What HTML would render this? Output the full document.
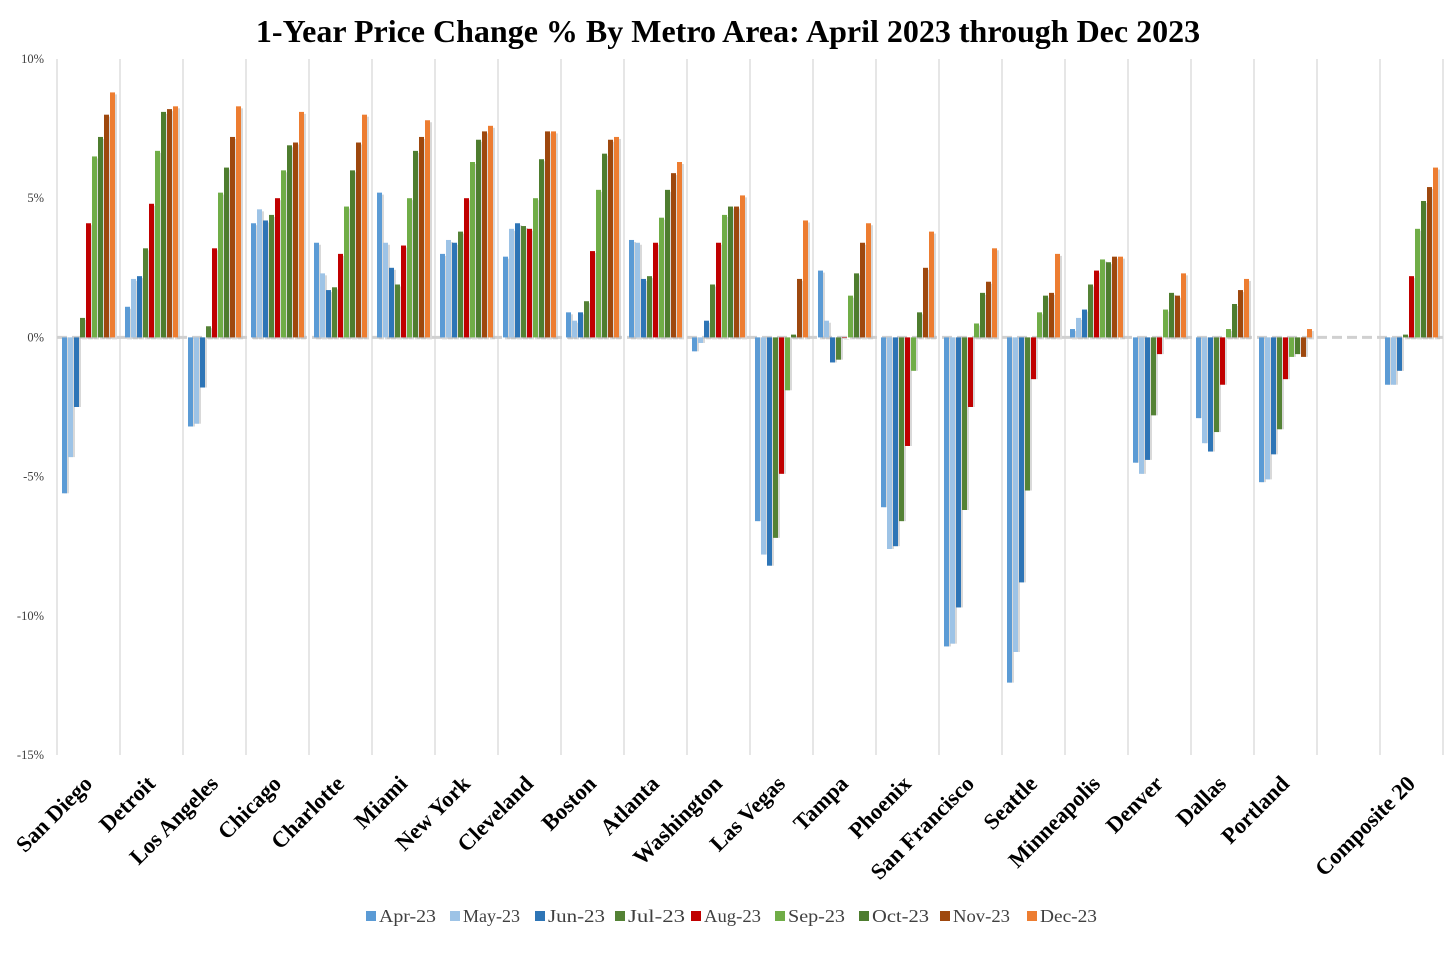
<!DOCTYPE html>
<html><head><meta charset="utf-8"><style>
body{margin:0;background:#fff;}
svg{display:block;font-family:"Liberation Serif",serif;}
</style></head><body>
<svg id="c" width="1456" height="974">
<text x="728" y="42" text-anchor="middle" font-size="32" font-weight="bold" fill="#000">1-Year Price Change % By Metro Area: April 2023 through Dec 2023</text>
<g id="grid"></g><g id="bars"></g><g id="labels"></g><g id="legend"></g>
</svg>
<script>
const categories=["San Diego","Detroit","Los Angeles","Chicago","Charlotte","Miami","New York","Cleveland","Boston","Atlanta","Washington","Las Vegas","Tampa","Phoenix","San Francisco","Seattle","Minneapolis","Denver","Dallas","Portland","","Composite 20"];
const seriesNames=["Apr-23","May-23","Jun-23","Jul-23","Aug-23","Sep-23","Oct-23","Nov-23","Dec-23"];
const seriesColors=["#5b9bd5","#9dc3e6","#2e75b6","#548235","#c00000","#70ad47","#4e7d2f","#9e480e","#ed7d31"];
const apr=[-5.6,1.1,-3.2,4.1,3.4,5.2,3.0,2.9,0.9,3.5,-0.5,-6.6,2.4,-6.1,-11.1,-12.4,0.3,-4.5,-2.9,-5.2,null,-1.7];
const may=[-4.3,2.1,-3.1,4.6,2.3,3.4,3.5,3.9,0.6,3.4,-0.2,-7.8,0.6,-7.6,-11.0,-11.3,0.7,-4.9,-3.8,-5.1,null,-1.7];
const jun=[-2.5,2.2,-1.8,4.2,1.7,2.5,3.4,4.1,0.9,2.1,0.6,-8.2,-0.9,-7.5,-9.7,-8.8,1.0,-4.4,-4.1,-4.2,null,-1.2];
const jul=[0.7,3.2,0.4,4.4,1.8,1.9,3.8,4.0,1.3,2.2,1.9,-7.2,-0.8,-6.6,-6.2,-5.5,1.9,-2.8,-3.4,-3.3,null,0.1];
const aug=[4.1,4.8,3.2,5.0,3.0,3.3,5.0,3.9,3.1,3.4,3.4,-4.9,0,-3.9,-2.5,-1.5,2.4,-0.6,-1.7,-1.5,null,2.2];
const sep=[6.5,6.7,5.2,6.0,4.7,5.0,6.3,5.0,5.3,4.3,4.4,-1.9,1.5,-1.2,0.5,0.9,2.8,1.0,0.3,-0.7,null,3.9];
const oct=[7.2,8.1,6.1,6.9,6.0,6.7,7.1,6.4,6.6,5.3,4.7,0.1,2.3,0.9,1.6,1.5,2.7,1.6,1.2,-0.6,null,4.9];
const nov=[8.0,8.2,7.2,7.0,7.0,7.2,7.4,7.4,7.1,5.9,4.7,2.1,3.4,2.5,2.0,1.6,2.9,1.5,1.7,-0.7,null,5.4];
const dec=[8.8,8.3,8.3,8.1,8.0,7.8,7.6,7.4,7.2,6.3,5.1,4.2,4.1,3.8,3.2,3.0,2.9,2.3,2.1,0.3,null,6.1];
const series=[apr,may,jun,jul,aug,sep,oct,nov,dec];
const yTicks=[10,5,0,-5,-10,-15];
const yTickLabels=["10%","5%","0%","-5%","-10%","-15%"];
const NS="http://www.w3.org/2000/svg";
const L=57,R=1443,T=59,B=755,yMax=10,yMin=-15;
const slot=(R-L)/categories.length;
const y=v=>T+(yMax-v)/(yMax-yMin)*(B-T);
const xSlot=i=>L+i*slot;
function mk(t,a,p){const e=document.createElementNS(NS,t);for(const k in a)e.setAttribute(k,a[k]);p.appendChild(e);return e;}
const grid=document.getElementById('grid');
for(let i=0;i<=categories.length;i++){
 const l=mk('line',{x1:xSlot(i),x2:xSlot(i),y1:T,y2:B,stroke:'#d9d9d9','stroke-width':1.3},grid);
 
 
}
yTicks.forEach((v,i)=>{
 const t=mk('text',{x:44,y:y(v)+4,'text-anchor':'end','font-size':12.5,fill:'#404040'},grid);
 t.textContent=yTickLabels[i];
 
 
});
const z=mk('line',{x1:L,x2:R,y1:y(0),y2:y(0),stroke:'#d0d0d0','stroke-width':3,'stroke-dasharray':'10,5'},grid);


const bars=document.getElementById('bars');
const bw=5,step=6,off=5;
series.forEach((s,si)=>{
 s.forEach((v,ci)=>{
  if(v===null)return;
  const x=xSlot(ci)+off+si*step;
  const y0=y(0),y1=y(v);
  const top=Math.min(y0,y1),h=Math.max(Math.abs(y1-y0),0.5);
  const sh=mk('rect',{x:x+2,y:top+(v>=0?2:0),width:bw,height:h,fill:'#bfbfbf',opacity:0.6},bars);
  
  
  const r=mk('rect',{x:x,y:top,width:bw,height:h,fill:seriesColors[si]},bars);
  
  
 });
});
const labels=document.getElementById('labels');
categories.forEach((c,i)=>{
 if(!c)return;
 const cx=xSlot(i)+slot/2+5,cy=785;
 const t=mk('text',{x:cx,y:cy,'text-anchor':'end','font-size':22.5,'font-weight':'bold',fill:'#000',transform:`rotate(-45 ${cx} ${cy})`},labels);
 t.textContent=c;
 
 
});
const lg=document.getElementById('legend');
const lx=[366,450,535,615,691,775,859,940,1027];
seriesNames.forEach((n,i)=>{
 const g=mk('g',{},lg);
 
 
 mk('rect',{x:lx[i],y:911,width:10,height:10,fill:seriesColors[i]},g);
 const t=mk('text',{x:lx[i]+13,y:922,'font-size':18,fill:'#404040',textLength:57,lengthAdjust:'spacingAndGlyphs'},g);
 t.textContent=n;
});
</script>
</body></html>
